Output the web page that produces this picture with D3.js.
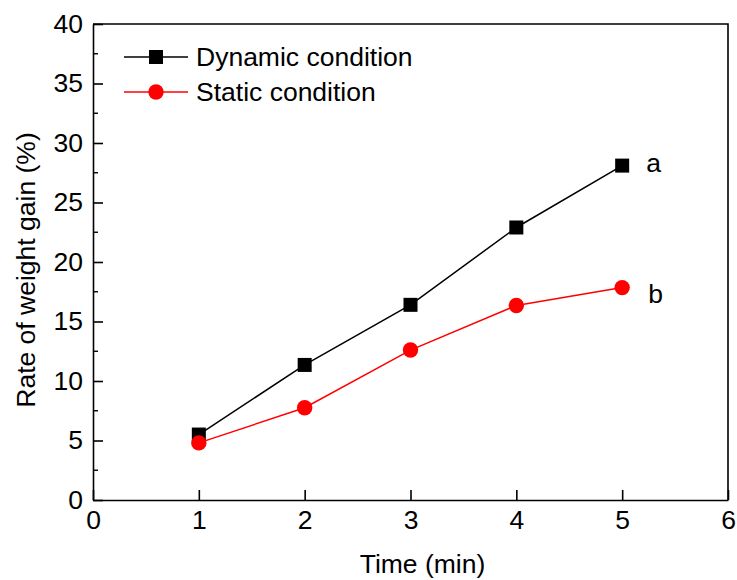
<!DOCTYPE html>
<html>
<head>
<meta charset="utf-8">
<script src="https://cdn.jsdelivr.net/npm/d3@7"></script>
<style>
  html, body { margin: 0; padding: 0; background: #fff; }
  text { font-family: "Liberation Sans", Arial, sans-serif; fill: #000; }
</style>
</head>
<body>
<svg id="chart" width="737" height="580"></svg>
<script>
// Weight gain over time for two conditions
const times = [1, 2, 3, 4, 5];
const dynamicGain = [5.5, 11.35, 16.4, 22.9, 28.1];
const staticGain = [4.8, 7.75, 12.6, 16.35, 17.85];
const xTicks = [0, 1, 2, 3, 4, 5, 6];
const yTicks = [0, 5, 10, 15, 20, 25, 30, 35, 40];
const seriesNames = ["Dynamic condition", "Static condition"];
const endLabels = ["a", "b"];

const svg = d3.select("#chart");
const W = 737, H = 580;
const m = { left: 93, right: 9, top: 24, bottom: 80 };

const x = d3.scaleLinear().domain([0, 6]).range([m.left, W - m.right]);
const y = d3.scaleLinear().domain([0, 40]).range([H - m.bottom, m.top]);

const FS = "26.5px";
const FF = "Liberation Sans, Arial, sans-serif";

// Bottom axis, ticks pointing inward
const xAxis = svg.append("g").attr("transform", `translate(0,${y(0)})`)
  .call(d3.axisBottom(x).tickValues(xTicks).tickFormat(d3.format("d"))
    .tickSizeInner(-10).tickSizeOuter(0).tickPadding(10));
xAxis.selectAll("text").style("font-size", FS).style("font-family", FF);

// Left axis, ticks pointing inward, with half-step minor ticks
const yAxis = svg.append("g").attr("transform", `translate(${x(0)},0)`)
  .call(d3.axisLeft(y).tickValues(yTicks).tickFormat(d3.format("d"))
    .tickSizeInner(-10).tickSizeOuter(0).tickPadding(10));
yAxis.selectAll("text").style("font-size", FS).style("font-family", FF);
svg.append("g").selectAll("line").data(d3.range(2.5, 40, 5)).join("line")
  .attr("x1", x(0)).attr("x2", x(0) + 5)
  .attr("y1", d => y(d)).attr("y2", d => y(d)).attr("stroke", "#000").attr("stroke-width", 1.4);

svg.selectAll(".domain, .tick line").attr("stroke", "#000").attr("stroke-width", 1.6);

// Top and right edges of the frame
svg.append("path")
  .attr("d", `M${x(0)},${y(40)}H${x(6)}V${y(0)}`)
  .attr("fill", "none").attr("stroke", "#000").attr("stroke-width", 1.6);

// Axis titles
svg.append("text").attr("x", (x(0) + x(6)) / 2 + 12).attr("y", 573)
  .attr("text-anchor", "middle").style("font-size", FS).text("Time (min)");
svg.append("text")
  .attr("transform", `translate(35,270) rotate(-90)`)
  .attr("text-anchor", "middle").style("font-size", FS).text("Rate of weight gain (%)");

// Series lines and markers
const line = d3.line().x(d => x(d[0])).y(d => y(d[1]));
const dynPts = times.map((t, i) => [t, dynamicGain[i]]);
const staPts = times.map((t, i) => [t, staticGain[i]]);

svg.append("path").attr("d", line(dynPts)).attr("fill", "none").attr("stroke", "#000").attr("stroke-width", 1.5);
svg.append("path").attr("d", line(staPts)).attr("fill", "none").attr("stroke", "#f00").attr("stroke-width", 1.5);

const sq = 14;
svg.append("g").selectAll("rect").data(dynPts).join("rect")
  .attr("x", d => x(d[0]) - sq / 2).attr("y", d => y(d[1]) - sq / 2)
  .attr("width", sq).attr("height", sq).attr("fill", "#000");
svg.append("g").selectAll("circle").data(staPts).join("circle")
  .attr("cx", d => x(d[0])).attr("cy", d => y(d[1])).attr("r", 7.7).attr("fill", "#f00");

// Series end labels
svg.append("text").attr("x", x(5) + 24).attr("y", y(dynamicGain[4]) + 6).style("font-size", FS).text(endLabels[0]);
svg.append("text").attr("x", x(5) + 26).attr("y", y(staticGain[4]) + 15).style("font-size", FS).text(endLabels[1]);

// Legend
const leg = svg.append("g");
const legRows = [
  { name: seriesNames[0], color: "#000", shape: "square", yPos: 57 },
  { name: seriesNames[1], color: "#f00", shape: "circle", yPos: 92 }
];
legRows.forEach(r => {
  leg.append("line").attr("x1", 124).attr("x2", 188).attr("y1", r.yPos).attr("y2", r.yPos)
    .attr("stroke", r.color).attr("stroke-width", 1.5);
  if (r.shape === "square") {
    leg.append("rect").attr("x", 156 - 7).attr("y", r.yPos - 7).attr("width", 14).attr("height", 14).attr("fill", r.color);
  } else {
    leg.append("circle").attr("cx", 156).attr("cy", r.yPos).attr("r", 7.7).attr("fill", r.color);
  }
  leg.append("text").attr("x", 196).attr("y", r.yPos + 8.5).style("font-size", FS).text(r.name);
});
</script>
</body>
</html>
